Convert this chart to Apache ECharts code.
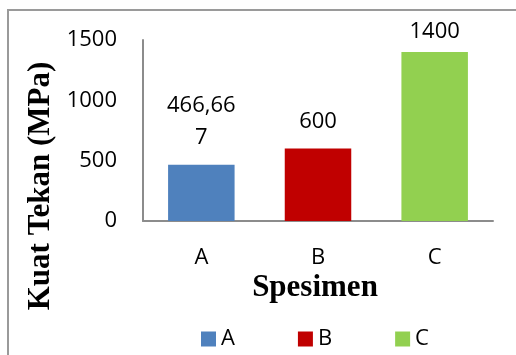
<!DOCTYPE html>
<html>
<head>
<meta charset="utf-8">
<script src="https://cdn.jsdelivr.net/npm/echarts@6/dist/echarts.min.js"></script>
<style>
  html, body { margin: 0; padding: 0; background: #fff; }
  #chart { width: 516px; height: 355px; }
</style>
</head>
<body>
<div id="chart"></div>
<script>
// Compressive strength per specimen
const categories = ['A', 'B', 'C'];
const strengthValues = [466.667, 600, 1400];
const barColors = ['#4F81BD', '#C00000', '#92D050'];
const yTicks = { min: 0, max: 1500, interval: 500 };

const tickFont = '"Open Sans", sans-serif';
const titleFont = '"Liberation Serif", "Times New Roman", serif';

// Format with a decimal comma and wrap long numbers onto a second line
function formatValue(v) {
  let s = String(Math.round(v * 1000) / 1000).replace('.', ',');
  if (s.length > 6) s = s.slice(0, 6) + '\n' + s.slice(6);
  return s;
}

// One series per specimen so the legend shows each colour; stacking keeps bars centred
const series = categories.map((name, i) => ({
  name: name,
  type: 'bar',
  stack: 'all',
  barWidth: '57%',
  itemStyle: { color: barColors[i] },
  label: {
    show: true,
    position: 'top',
    distance: strengthValues[i] > 1300 ? 4 : 11,
    color: '#000',
    fontFamily: tickFont,
    fontSize: 22,
    lineHeight: 32,
    formatter: p => formatValue(p.value)
  },
  data: categories.map((c, j) => (j === i ? strengthValues[i] : '-'))
}));

const chart = echarts.init(document.getElementById('chart'));
chart.setOption({
  animation: false,
  backgroundColor: '#fff',
  grid: { left: 143, top: 40, right: 23, bottom: 134, containLabel: false },
  xAxis: {
    type: 'category',
    data: categories,
    axisLine: { lineStyle: { color: '#8c8c8c', width: 2 } },
    axisTick: { show: false },
    axisLabel: { color: '#000', fontFamily: tickFont, fontSize: 22, lineHeight: 22, margin: 26 }
  },
  yAxis: {
    type: 'value',
    min: yTicks.min,
    max: yTicks.max,
    interval: yTicks.interval,
    axisLine: { show: true, lineStyle: { color: '#8c8c8c', width: 2 } },
    axisTick: { show: false },
    splitLine: { show: false },
    axisLabel: {
      color: '#000',
      fontFamily: tickFont,
      fontSize: 22,
      margin: 26,
      formatter: v => String(v)
    }
  },
  legend: {
    data: categories,
    left: 196,
    top: 323,
    icon: 'rect',
    itemWidth: 15,
    itemHeight: 15,
    itemGap: 63,
    textStyle: { color: '#000', fontFamily: tickFont, fontSize: 22 }
  },
  graphic: [
    {
      type: 'rect',
      shape: { x: 8, y: 10, width: 520, height: 360 },
      style: { fill: 'none', stroke: '#9a9a9a', lineWidth: 2 },
      silent: true
    },
    {
      type: 'text',
      x: 41,
      y: 186,
      rotation: Math.PI / 2,
      style: {
        text: 'Kuat Tekan (MPa)',
        fill: '#000',
        font: 'bold 31px ' + titleFont,
        align: 'center',
        verticalAlign: 'middle'
      }
    },
    {
      type: 'text',
      x: 315,
      y: 288,
      style: {
        text: 'Spesimen',
        fill: '#000',
        font: 'bold 31px ' + titleFont,
        align: 'center',
        verticalAlign: 'middle'
      }
    }
  ],
  series: series
});
</script>
</body>
</html>
